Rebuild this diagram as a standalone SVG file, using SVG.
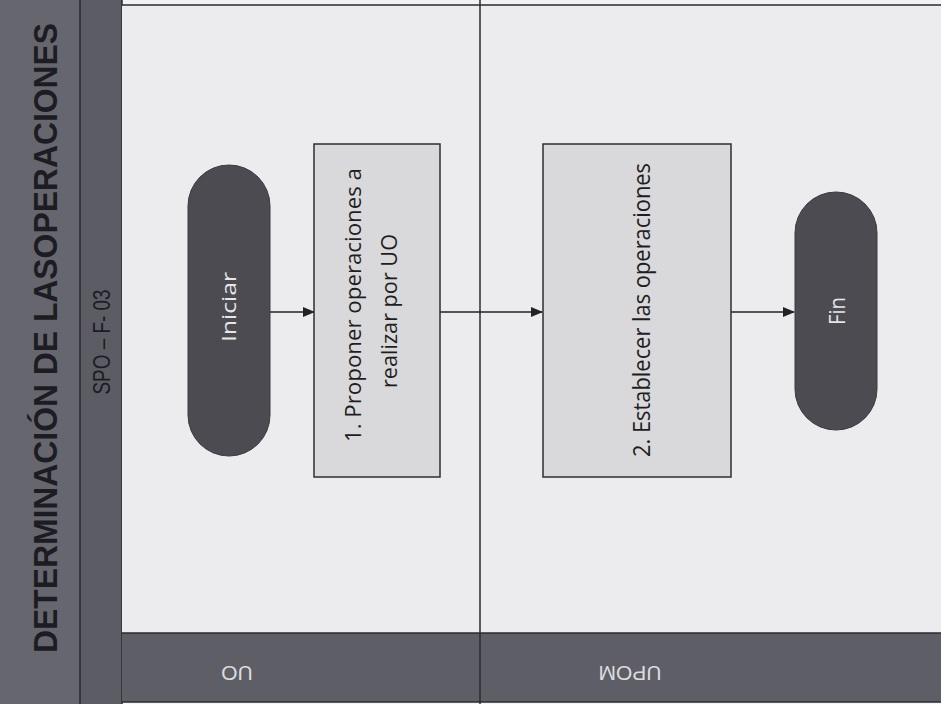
<svg xmlns="http://www.w3.org/2000/svg" width="941" height="704" viewBox="0 0 941 704">
<defs>
<style>
.band{fill:#5e5e66}
.lane{fill:#ececee}
.line{stroke:#2a2a30;stroke-width:1.5;fill:none}
.pill{fill:#4b4b51;stroke:#3a3a40;stroke-width:1}
.box{fill:#d9d9db;stroke:#2e2e33;stroke-width:1.5}
.t{font-family:"Liberation Sans",Arial,sans-serif}
.nt{font-family:"Open Sans","Liberation Sans",sans-serif;fill:#1e1e22}
.lt{font-family:"Open Sans","Liberation Sans",sans-serif;fill:#e6e6e8}
.conn{stroke:#222226;stroke-width:1.5;fill:none;marker-end:url(#ah)}
</style>
<marker id="ah" markerWidth="12" markerHeight="10" refX="11" refY="5" orient="auto" markerUnits="userSpaceOnUse">
<path d="M0,0 L12,5 L0,10 Z" fill="#222226"/>
</marker>
</defs>
<rect x="0" y="0" width="941" height="704" fill="#f2f2f3"/>
<g id="header">
<rect x="0" y="0" width="80" height="704" fill="#66666e"/>
<rect x="80" y="0" width="42" height="704" fill="#5c5c64"/>
<line class="line" x1="80" y1="0" x2="80" y2="704"/>
<line class="line" x1="122" y1="0" x2="122" y2="704"/>
<text class="t" transform="translate(57,338) rotate(-90)" text-anchor="middle" font-size="34" font-weight="bold" fill="#1c1c22" textLength="630" lengthAdjust="spacingAndGlyphs">DETERMINACIÓN DE LASOPERACIONES</text>
<text class="t" transform="translate(110,342) rotate(-90)" text-anchor="middle" font-size="23" fill="#1c1c22" textLength="105" lengthAdjust="spacingAndGlyphs">SPO – F- 03</text>
</g>
<g id="lanes">
<rect class="lane" x="122" y="5" width="358" height="628"/>
<rect class="lane" x="480" y="5" width="461" height="628" fill="#eeeef0"/>
<rect class="band" x="122" y="633" width="819" height="69" fill="#57575e"/>
<line class="line" x1="122" y1="5" x2="941" y2="5"/>
<line class="line" x1="122" y1="633" x2="941" y2="633"/>
<line class="line" x1="122" y1="702" x2="941" y2="702"/>
<line class="line" x1="480" y1="0" x2="480" y2="704"/>
<text class="t" transform="translate(237,673) rotate(180)" text-anchor="middle" dominant-baseline="central" font-size="21" fill="#dcdcde">UO</text>
<text class="t" transform="translate(630,673) rotate(180)" text-anchor="middle" dominant-baseline="central" font-size="21" fill="#dcdcde">UPOM</text>
</g>
<g id="connectors">
<line class="conn" x1="270" y1="312" x2="314" y2="312"/>
<line class="conn" x1="440" y1="312" x2="542" y2="312"/>
<line class="conn" x1="731" y1="312" x2="794" y2="312"/>
</g>
<g id="iniciar">
<rect class="pill" x="188" y="165" width="82" height="291" rx="41" ry="41"/>
<text class="lt" transform="translate(236,307) rotate(-90)" text-anchor="middle" font-size="20" textLength="70" lengthAdjust="spacingAndGlyphs">Iniciar</text>
</g>
<g id="step1">
<rect class="box" x="314" y="144" width="126" height="333"/>
<text class="nt" transform="translate(361,305) rotate(-90)" text-anchor="middle" font-size="22" textLength="274" lengthAdjust="spacingAndGlyphs">1. Proponer operaciones a</text>
<text class="nt" transform="translate(397,311) rotate(-90)" text-anchor="middle" font-size="22" textLength="154" lengthAdjust="spacingAndGlyphs">realizar por UO</text>
</g>
<g id="step2">
<rect class="box" x="543" y="144" width="188" height="333"/>
<text class="nt" transform="translate(650,310) rotate(-90)" text-anchor="middle" font-size="24" textLength="294" lengthAdjust="spacingAndGlyphs">2. Establecer las operaciones</text>
</g>
<g id="fin">
<rect class="pill" x="795" y="192" width="82" height="238" rx="41" ry="41"/>
<text class="lt" transform="translate(845,311) rotate(-90)" text-anchor="middle" font-size="22" textLength="28" lengthAdjust="spacingAndGlyphs">Fin</text>
</g>
</svg>
